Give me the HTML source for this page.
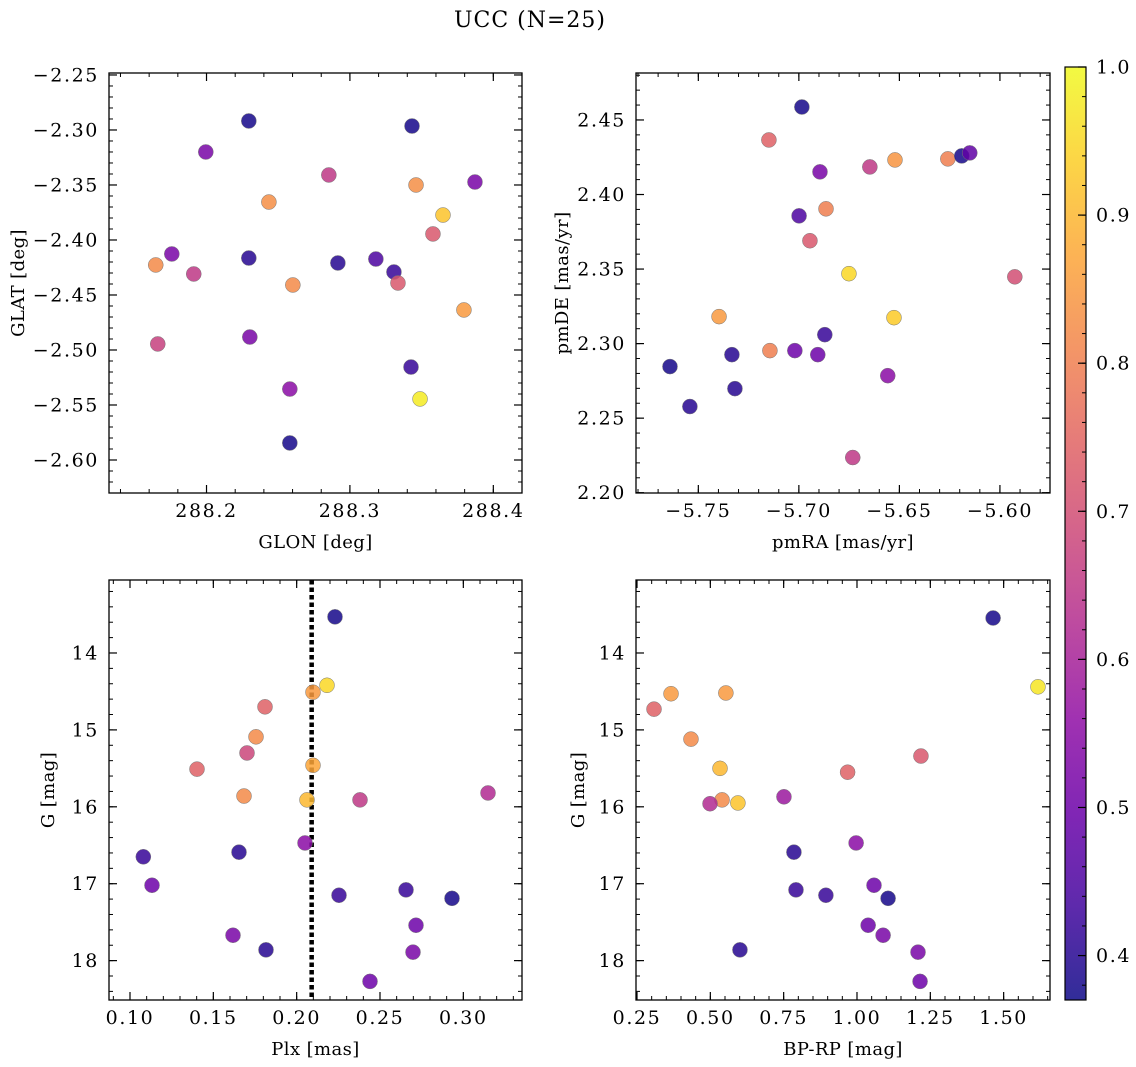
<!DOCTYPE html>
<html><head><meta charset="utf-8"><style>
body{margin:0;background:#fff;}
svg{display:block;font-family:"DejaVu Serif","Liberation Serif",serif;}
.tk{font-size:19px;letter-spacing:1.6px;}
.ax{font-size:18px;letter-spacing:0.4px;}
</style></head><body>
<svg id="fig" width="1136" height="1067" viewBox="0 0 1136 1067" xmlns="http://www.w3.org/2000/svg">
<text x="530" y="27" font-size="22" letter-spacing="1" text-anchor="middle">UCC (N=25)</text>
</svg>
<script>
// ---- data ----
const glon = [288.2295,288.1995,288.3433,288.2853,288.3461,288.3872,288.2435,288.3649,288.3579,288.1646,288.1758,288.1911,288.2295,288.2916,288.3181,288.3307,288.3335,288.2602,288.3795,288.166,288.2302,288.3426,288.2581,288.3489,288.2581];
const glat = [-2.2918,-2.32,-2.2964,-2.3409,-2.35,-2.3473,-2.3655,-2.3773,-2.3945,-2.4227,-2.4127,-2.4309,-2.4164,-2.4209,-2.4173,-2.4291,-2.4391,-2.4409,-2.4636,-2.4945,-2.4882,-2.5155,-2.5355,-2.5445,-2.5845];
const probTL = [0.38,0.52,0.38,0.65,0.83,0.52,0.83,0.92,0.72,0.82,0.52,0.65,0.40,0.40,0.45,0.42,0.72,0.82,0.85,0.67,0.52,0.42,0.55,0.98,0.38];
const pmra = [-5.6985,-5.7149,-5.6895,-5.6647,-5.6522,-5.6259,-5.619,-5.615,-5.6999,-5.6865,-5.6945,-5.6751,-5.5926,-5.7397,-5.6527,-5.7641,-5.7333,-5.7144,-5.702,-5.6871,-5.6906,-5.6558,-5.7318,-5.7542,-5.6732];
const pmde = [2.4587,2.4366,2.4152,2.4185,2.4232,2.4239,2.4259,2.4279,2.3857,2.3904,2.369,2.3469,2.3448,2.3181,2.3174,2.2846,2.2926,2.2953,2.2953,2.306,2.2926,2.2785,2.2698,2.2578,2.2236];
const probTR = [0.38,0.74,0.52,0.65,0.84,0.80,0.38,0.48,0.45,0.80,0.72,0.95,0.70,0.85,0.93,0.38,0.40,0.80,0.50,0.42,0.50,0.55,0.40,0.40,0.65];
const plx = [0.223,0.2182,0.2098,0.181,0.1756,0.1702,0.1402,0.2098,0.1684,0.2062,0.238,0.3148,0.205,0.1654,0.108,0.1132,0.2656,0.2254,0.2932,0.2716,0.1618,0.1816,0.2698,0.244];
const gmagBL = [13.53,14.42,14.51,14.70,15.09,15.30,15.51,15.46,15.86,15.91,15.91,15.82,16.47,16.59,16.65,17.02,17.08,17.15,17.19,17.54,17.67,17.86,17.89,18.27];
const probBL = [0.38,0.95,0.85,0.74,0.82,0.68,0.74,0.87,0.82,0.90,0.65,0.62,0.55,0.40,0.42,0.50,0.42,0.42,0.38,0.50,0.52,0.40,0.52,0.50];
const bprp = [1.464,1.617,0.308,0.366,0.553,0.434,0.533,0.540,0.594,0.499,0.751,0.968,1.218,0.997,0.785,0.792,0.894,1.058,1.106,1.038,1.089,1.208,0.601,1.215];
const gmagBR = [13.545,14.44,14.73,14.53,14.52,15.12,15.50,15.91,15.95,15.96,15.87,15.55,15.34,16.47,16.59,17.08,17.15,17.02,17.19,17.54,17.67,17.89,17.86,18.27];
const probBR = [0.38,0.97,0.74,0.85,0.85,0.82,0.90,0.82,0.92,0.62,0.58,0.74,0.72,0.55,0.40,0.42,0.42,0.50,0.38,0.50,0.52,0.52,0.40,0.50];
const plxLine = [0.209];
const cbarTicks = [0.4,0.5,0.6,0.7,0.8,0.9,1.0];

const NS='http://www.w3.org/2000/svg';
const svg=document.getElementById('fig');
function mk(tag,attrs,parent){const e=document.createElementNS(NS,tag);for(const k in attrs)e.setAttribute(k,attrs[k]);(parent||svg).appendChild(e);return e;}
const VMIN=0.370,VMAX=1.0;
const plasma=[[13,8,135],[65,4,157],[106,0,168],[143,13,164],[177,42,144],[204,71,120],[225,100,98],[242,132,75],[252,166,54],[252,206,37],[240,249,33]];
function cmap(p){let t=(p-VMIN)/(VMAX-VMIN);t=Math.max(0,Math.min(1,t));const f=t*10,i=Math.min(9,Math.floor(f)),r=f-i;const a=plasma[i],b=plasma[i+1];return 'rgb('+a.map((v,k)=>Math.round(v+(b[k]-v)*r)).join(',')+')';}
function fmt(v,d){let s=Math.abs(v).toFixed(d);return (v<-1e-9?'\u2212':'')+s;}

function panel(cfg){
  const g=mk('g',{});
  
  
  const {x0,y0,w,h}=cfg;
  const sx=v=>x0+(v-cfg.xmin)/(cfg.xmax-cfg.xmin)*w;
  const sy=v=>y0+(v-cfg.ytop)/(cfg.ybot-cfg.ytop)*h;
  function ticks(lo,hi,step){const a=[];const s=Math.ceil(lo/step-1e-6),e=Math.floor(hi/step+1e-6);for(let i=s;i<=e;i++)a.push(i*step);return a;}
  const xl=Math.min(cfg.xmin,cfg.xmax),xh=Math.max(cfg.xmin,cfg.xmax);
  const yl=Math.min(cfg.ytop,cfg.ybot),yh=Math.max(cfg.ytop,cfg.ybot);
  ticks(xl,xh,cfg.xminor).forEach(v=>{const X=sx(v);mk('line',{x1:X,x2:X,y1:y0+h,y2:y0+h-4,stroke:'#000','stroke-width':1},g);mk('line',{x1:X,x2:X,y1:y0,y2:y0+4,stroke:'#000','stroke-width':1},g);});
  ticks(yl,yh,cfg.yminor).forEach(v=>{const Y=sy(v);mk('line',{x1:x0,x2:x0+4,y1:Y,y2:Y,stroke:'#000','stroke-width':1},g);mk('line',{x1:x0+w,x2:x0+w-4,y1:Y,y2:Y,stroke:'#000','stroke-width':1},g);});
  ticks(xl,xh,cfg.xmajor).forEach(v=>{const X=sx(v);mk('line',{x1:X,x2:X,y1:y0+h,y2:y0+h-8,stroke:'#000','stroke-width':1.2},g);mk('line',{x1:X,x2:X,y1:y0,y2:y0+8,stroke:'#000','stroke-width':1.2},g);
    const t=mk('text',{x:X,y:y0+h+24,'class':'tk','text-anchor':'middle'},g);t.textContent=fmt(v,cfg.xd);
    
    });
  ticks(yl,yh,cfg.ymajor).forEach(v=>{const Y=sy(v);mk('line',{x1:x0,x2:x0+8,y1:Y,y2:Y,stroke:'#000','stroke-width':1.2},g);mk('line',{x1:x0+w,x2:x0+w-8,y1:Y,y2:Y,stroke:'#000','stroke-width':1.2},g);
    const t=mk('text',{x:x0-10,y:Y+6.5,'class':'tk','text-anchor':'end'},g);t.textContent=fmt(v,cfg.yd);
    
    });
  if(cfg.vline){cfg.vline.forEach(v=>{const l=mk('line',{x1:sx(v),x2:sx(v),y1:y0,y2:y0+h,stroke:'#000','stroke-width':4.5,'stroke-dasharray':'4.5,3'},g);
    
    });}
  cfg.xs.forEach((xv,i)=>{const c=mk('circle',{cx:sx(xv),cy:sy(cfg.ys[i]),r:7.5,fill:cmap(cfg.ps[i]),'fill-opacity':0.85,stroke:'#777','stroke-width':0.5},g);
    
    });
  mk('rect',{x:x0,y:y0,width:w,height:h,fill:'none',stroke:'#000','stroke-width':1.3},g);
  const xt=mk('text',{x:x0+w/2,y:y0+h+55,'class':'ax','text-anchor':'middle'},g);xt.textContent=cfg.xlabel;
  
  
  const yt=mk('text',{x:cfg.ylx,y:y0+h/2,'class':'ax','text-anchor':'middle',transform:'rotate(-90 '+cfg.ylx+' '+(y0+h/2)+')'},g);yt.textContent=cfg.ylabel;
  
  
}
panel({name:'glon-glat-panel',x0:109,y0:73,w:413,h:420,xmin:288.132,xmax:288.42,ytop:-2.2482,ybot:-2.630,xmajor:0.1,xminor:0.02,ymajor:0.05,yminor:0.01,xd:1,yd:2,xs:glon,ys:glat,ps:probTL,xlabel:'GLON [deg]',ylabel:'GLAT [deg]',ylx:24});
panel({name:'proper-motion-panel',x0:636,y0:73,w:414,h:420,xmin:-5.781,xmax:-5.5751,ytop:2.4815,ybot:2.1998,xmajor:0.05,xminor:0.01,ymajor:0.05,yminor:0.01,xd:2,yd:2,xs:pmra,ys:pmde,ps:probTR,xlabel:'pmRA [mas/yr]',ylabel:'pmDE [mas/yr]',ylx:568});
panel({name:'plx-g-panel',x0:109,y0:580,w:413,h:420,xmin:0.0874,xmax:0.3352,ytop:13.051,ybot:18.512,xmajor:0.05,xminor:0.01,ymajor:1,yminor:0.2,xd:2,yd:0,xs:plx,ys:gmagBL,ps:probBL,vline:plxLine,xlabel:'Plx [mas]',ylabel:'G [mag]',ylx:54});
panel({name:'cmd-panel',x0:636,y0:580,w:414,h:420,xmin:0.2466,xmax:1.658,ytop:13.051,ybot:18.512,xmajor:0.25,xminor:0.05,ymajor:1,yminor:0.2,xd:2,yd:0,xs:bprp,ys:gmagBR,ps:probBR,xlabel:'BP-RP [mag]',ylabel:'G [mag]',ylx:584});

// colorbar
const cb=mk('g',{});


const defs=mk('defs',{},cb);
const lg=mk('linearGradient',{id:'cbg',x1:0,y1:1,x2:0,y2:0},defs);
for(let i=0;i<=20;i++){const p=VMIN+(VMAX-VMIN)*i/20;mk('stop',{offset:i/20,'stop-color':cmap(p),'stop-opacity':0.85},lg);}
const CX=1065,CW=21,CT=67,CB=1000;
const cy=v=>CB-(v-VMIN)/(VMAX-VMIN)*(CB-CT);
mk('rect',{x:CX,y:CT,width:CW,height:CB-CT,fill:'url(#cbg)'},cb);
for(let i=Math.ceil(VMIN/0.02);i<=50;i++){const Y=cy(i*0.02);mk('line',{x1:CX+CW,x2:CX+CW-4,y1:Y,y2:Y,stroke:'#000','stroke-width':1},cb);}
cbarTicks.forEach(v=>{const Y=cy(v);mk('line',{x1:CX+CW,x2:CX+CW-8,y1:Y,y2:Y,stroke:'#000','stroke-width':1.2},cb);
  const t=mk('text',{x:CX+CW+10,y:Y+6.5,'class':'tk'},cb);t.textContent=v.toFixed(1);
  
  });
mk('rect',{x:CX,y:CT,width:CW,height:CB-CT,fill:'none',stroke:'#000','stroke-width':1.2},cb);
</script>
</body></html>
